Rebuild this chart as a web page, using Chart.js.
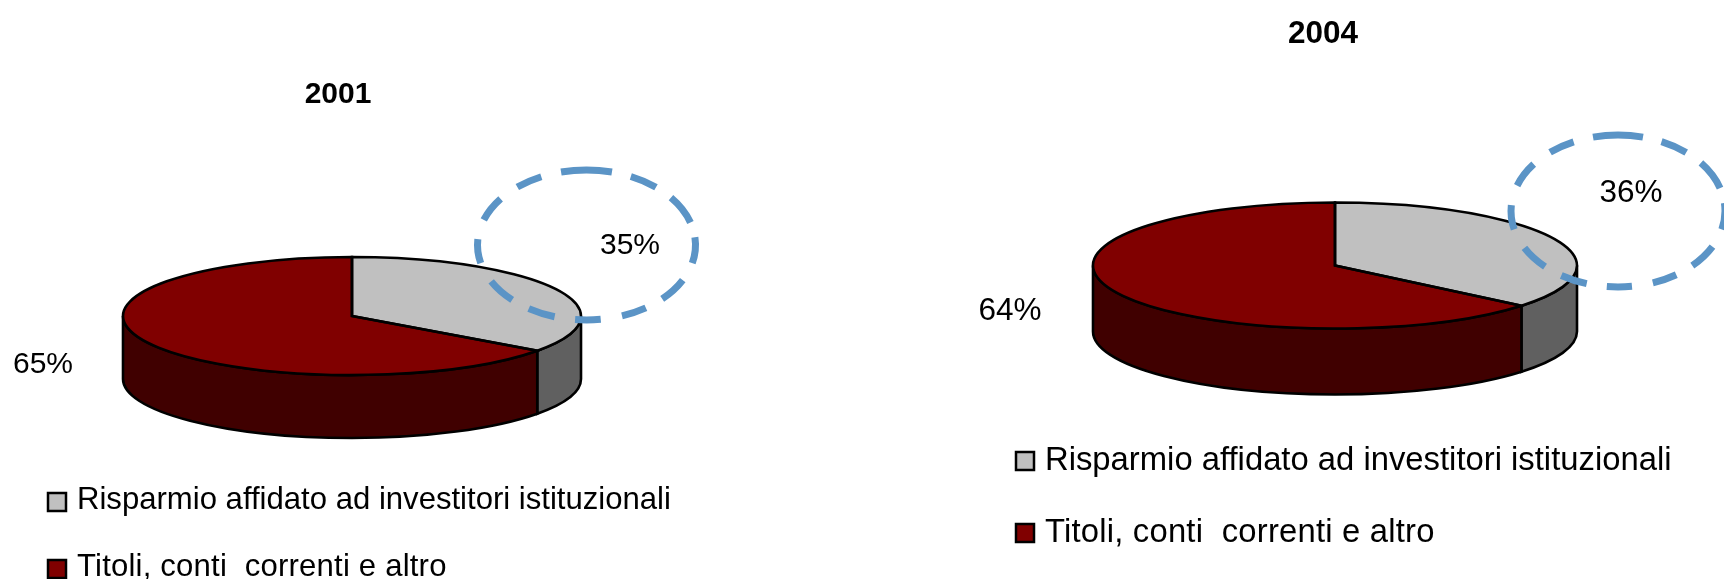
<!DOCTYPE html>
<html>
<head>
<meta charset="utf-8">
<script src="https://cdn.jsdelivr.net/npm/chart.js@4"></script>
<style>
    html, body { margin: 0; padding: 0; background: #fff; overflow: hidden; }
    canvas { position: absolute; top: 0; }
</style>
</head>
<body>
<canvas id="pie2001" width="860" height="579" style="left:0"></canvas>
<canvas id="pie2004" width="864" height="579" style="left:860px"></canvas>
<script>
const categories = ['Risparmio affidato ad investitori istituzionali', 'Titoli, conti  correnti e altro'];
const values2001 = [35, 65];
const values2004 = [36, 64];
const titleLabels = ['2001', '2004'];
const topColors = ['#c0c0c0', '#800000'];
const sideColors = ['#606060', '#400000'];
// dashes of the highlight ring, degrees clockwise from the top of the ellipse
const ringDashes = [[-13.5, 13.5], [24, 39.6], [50.8, 72.5], [84, 104], [118, 136], [147, 161],
    [172.5, 186], [197, 212], [223, 241], [256, 274.5], [289.5, 308], [320.6, 335.5]];

// the pie is flattened and given a side wall, like the old 3D office charts
const flatPie = {
    id: 'flatPie',
    beforeDatasetsDraw(chart, args, o) {
        const ctx = chart.ctx;
        const arcs = chart.getDatasetMeta(0).data;
        // side wall first, only the part facing the viewer (0..PI)
        arcs.forEach((arc, i) => {
            const a = Math.max(arc.startAngle, 0);
            const b = Math.min(arc.endAngle, Math.PI);
            if (b <= a) return;
            ctx.beginPath();
            ctx.ellipse(o.cx, o.cy, o.rx, o.ry, 0, a, b);
            ctx.lineTo(o.cx + o.rx * Math.cos(b), o.cy + o.ry * Math.sin(b) + o.depth);
            ctx.ellipse(o.cx, o.cy + o.depth, o.rx, o.ry, 0, b, a, true);
            ctx.closePath();
            ctx.fillStyle = sideColors[i];
            ctx.fill();
            ctx.lineWidth = 2.6;
            ctx.strokeStyle = '#000';
            ctx.stroke();
        });
        // slices are drawn by the library under this transform
        const first = arcs[0];
        ctx.save();
        ctx.translate(o.cx, o.cy);
        ctx.scale(o.rx / first.outerRadius, o.ry / first.outerRadius);
        ctx.translate(-first.x, -first.y);
    },
    afterDatasetsDraw(chart, args, o) {
        const ctx = chart.ctx;
        ctx.restore();
        chart.getDatasetMeta(0).data.forEach(arc => {
            ctx.beginPath();
            ctx.moveTo(o.cx, o.cy);
            ctx.ellipse(o.cx, o.cy, o.rx, o.ry, 0, arc.startAngle, arc.endAngle);
            ctx.closePath();
            ctx.lineWidth = 2.6;
            ctx.strokeStyle = '#000';
            ctx.stroke();
        });
    },
    afterDraw(chart, args, o) {
        const ctx = chart.ctx;
        const values = chart.data.datasets[0].data;
        // dashed highlight
        ctx.lineWidth = 7;
        ctx.strokeStyle = '#5b94c6';
        ringDashes.forEach(d => {
            ctx.beginPath();
            ctx.ellipse(o.ring.x, o.ring.y, o.ring.rx, o.ring.ry, 0,
                (d[0] - 90) * Math.PI / 180, (d[1] - 90) * Math.PI / 180);
            ctx.stroke();
        });

        ctx.fillStyle = '#000';
        ctx.textBaseline = 'alphabetic';
        ctx.textAlign = 'center';
        ctx.font = 'bold ' + o.font + 'px "Liberation Sans"';
        ctx.fillText(o.title, o.titleX, o.titleY);
        ctx.font = o.font + 'px "Liberation Sans"';
        values.forEach((v, i) => {
            ctx.fillText(v + '%', o.pctX[i], o.pctY[i]);
        });
        ctx.textAlign = 'left';
        ctx.font = o.legFont + 'px "Liberation Sans"';
        chart.data.labels.forEach((label, i) => {
            ctx.fillStyle = topColors[i];
            ctx.fillRect(o.legX, o.legBoxY[i], 18, 18);
            ctx.lineWidth = 2.5;
            ctx.strokeStyle = '#000';
            ctx.strokeRect(o.legX, o.legBoxY[i], 18, 18);
            ctx.fillStyle = '#000';
            ctx.letterSpacing = i === 1 ? '0.2px' : '0px';
            ctx.fillText(label, o.legTextX, o.legBaseY[i]);
            ctx.letterSpacing = '0px';
        });
    }
};

function makePie(id, values, opts) {
    new Chart(document.getElementById(id), {
        type: 'pie',
        data: {
            labels: categories,
            datasets: [{
                data: values,
                backgroundColor: topColors,
                borderWidth: 0,
                clip: false
            }]
        },
        options: {
            responsive: false,
            animation: false,
            plugins: {
                legend: { display: false },
                tooltip: { enabled: false },
                flatPie: opts
            }
        },
        plugins: [flatPie]
    });
}

makePie('pie2001', values2001, {
    cx: 352, cy: 316, rx: 229, ry: 59, depth: 63,
    ring: { x: 586.5, y: 245, rx: 109, ry: 75 },
    font: 30, legFont: 31.1, title: titleLabels[0], titleX: 338, titleY: 103,
    pctX: [630, 43], pctY: [254, 373],
    legX: 48, legBoxY: [493, 560], legTextX: 77, legBaseY: [509, 576]
});
makePie('pie2004', values2004, {
    cx: 475, cy: 265.5, rx: 242, ry: 63, depth: 66,
    ring: { x: 758, y: 211, rx: 107, ry: 76 },
    font: 31.5, legFont: 32.8, title: titleLabels[1], titleX: 463, titleY: 43,
    pctX: [771, 150], pctY: [202, 320],
    legX: 156, legBoxY: [452, 524], legTextX: 185, legBaseY: [470, 542]
});
</script>
</body>
</html>
